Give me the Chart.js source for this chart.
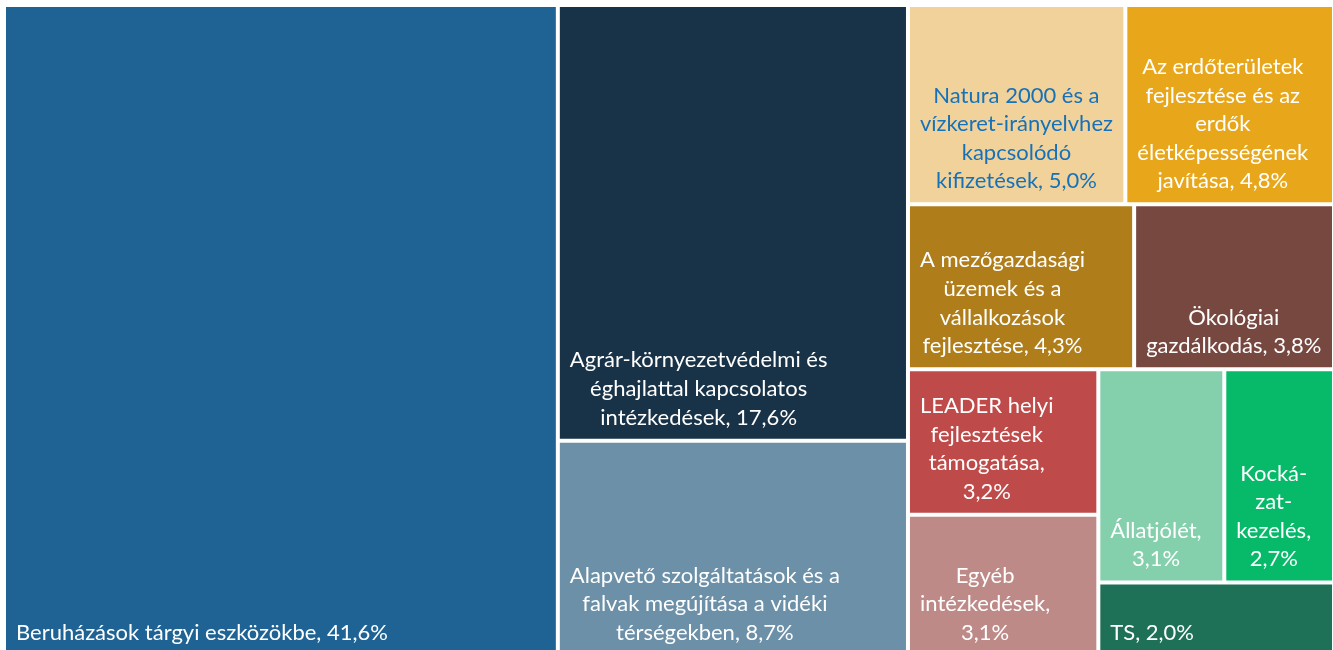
<!DOCTYPE html>
<html>
<head>
<meta charset="utf-8">
<script src="https://cdn.jsdelivr.net/npm/chart.js@4.4.1/dist/chart.umd.min.js"></script>
<style>
  html, body { margin: 0; padding: 0; background: #ffffff; overflow: hidden; }
  #wrap { position: absolute; left: 0; top: 0; }
</style>
</head>
<body>
<div id="wrap"><canvas id="c" width="1338" height="661"></canvas></div>
<script>
// ---- data ----
const categories = [
  "Beruházások tárgyi eszközökbe",
  "Agrár-környezetvédelmi és\néghajlattal kapcsolatos\nintézkedések",
  "Alapvető szolgáltatások és a\nfalvak megújítása a vidéki\ntérségekben",
  "Natura 2000 és a\nvízkeret-irányelvhez\nkapcsolódó\nkifizetések",
  "Az erdőterületek\nfejlesztése és az\nerdők\néletképességének\njavítása",
  "A mezőgazdasági\nüzemek és a\nvállalkozások\nfejlesztése",
  "Ökológiai\ngazdálkodás",
  "LEADER helyi\nfejlesztések\ntámogatása",
  "Egyéb\nintézkedések",
  "Állatjólét",
  "Kocká-\nzat-\nkezelés",
  "TS"
];
const values = [41.6, 17.6, 8.7, 5.0, 4.8, 4.3, 3.8, 3.2, 3.1, 3.1, 2.7, 2.0];
const valueOnNewLine = [false, false, false, false, false, false, false, true, true, true, true, false];
const fillColors = [
  "rgb(30,99,148)", "rgb(24,50,71)", "rgb(108,144,168)", "rgb(242,210,155)",
  "rgb(232,167,26)", "rgb(175,126,26)", "rgb(119,72,64)", "rgb(190,75,74)",
  "rgb(189,138,136)", "rgb(133,208,172)", "rgb(6,186,106)", "rgb(30,113,87)"
];
const textColors = [
  "#ffffff", "#ffffff", "#ffffff", "rgb(22,114,184)", "#ffffff", "#ffffff",
  "#ffffff", "#ffffff", "#ffffff", "#ffffff", "#ffffff", "#ffffff"
];

// ---- squarified layout in a k x 1 rectangle ----
function worst(row, side) {
  let s = 0, mx = -Infinity, mn = Infinity;
  for (const a of row) { s += a; if (a > mx) mx = a; if (a < mn) mn = a; }
  return Math.max(side * side * mx / (s * s), (s * s) / (side * side * mn));
}
function squarify(vals, k) {
  const total = vals.reduce((a, b) => a + b, 0);
  const areas = vals.map(v => v * k / total);
  let x = 0, y = 0, w = k, h = 1;
  const rects = [];
  let i = 0;
  while (i < areas.length) {
    const side = Math.min(w, h);
    const row = [areas[i]];
    let j = i + 1;
    while (j < areas.length && worst(row.concat([areas[j]]), side) <= worst(row, side)) {
      row.push(areas[j]); j++;
    }
    const s = row.reduce((a, b) => a + b, 0);
    if (w >= h) {
      const cw = s / h; let cy = y;
      for (const a of row) { const rh = a / cw; rects.push({x: x, y: cy, w: cw, h: rh}); cy += rh; }
      x += cw; w -= cw;
    } else {
      const rh = s / w; let cx = x;
      for (const a of row) { const rw = a / rh; rects.push({x: cx, y: y, w: rw, h: rh}); cx += rw; }
      y += rh; h -= rh;
    }
    i = j;
  }
  return rects;
}

// ---- treemap controller using library scales and bar elements ----
class TreemapController extends Chart.DatasetController {
  update(mode) {
    const meta = this._cachedMeta;
    this.updateElements(meta.data, 0, meta.data.length, mode);
  }
  updateElements(elements, start, count, mode) {
    const meta = this._cachedMeta;
    const xs = meta.xScale, ys = meta.yScale;
    const pw = Math.abs(xs.getPixelForValue(1) - xs.getPixelForValue(0));
    const ph = Math.abs(ys.getPixelForValue(1) - ys.getPixelForValue(0));
    const k = pw / ph;
    const rects = squarify(this.getDataset().data, k);
    for (let i = start; i < start + count; i++) {
      const r = rects[i];
      const left = xs.getPixelForValue(r.x / k);
      const right = xs.getPixelForValue((r.x + r.w) / k);
      const top = ys.getPixelForValue(r.y);
      const bottom = ys.getPixelForValue(r.y + r.h);
      const props = {
        x: (left + right) / 2,
        width: right - left,
        y: top,
        base: bottom,
        height: bottom - top,
        horizontal: false,
        inflateAmount: 0,
        enableBorderRadius: false,
        borderSkipped: {top: false, bottom: false, left: false, right: false},
        options: this.resolveDataElementOptions(i, mode)
      };
      this.updateElement(elements[i], i, props, 'none');
    }
  }
}
TreemapController.id = 'treemap';
TreemapController.defaults = { dataElementType: 'bar', datasetElementType: false };
TreemapController.overrides = {};
Chart.register(TreemapController);

const FONT = '22px Lato';
const LINE_H = 28.6;

const labelPlugin = {
  id: 'treemapLabels',
  afterDatasetsDraw(chart) {
    const meta = chart.getDatasetMeta(0);
    const ctx = chart.ctx;
    ctx.save();
    ctx.font = FONT;
    ctx.textBaseline = 'alphabetic';
    ctx.textAlign = 'center';
    meta.data.forEach((el, i) => {
      const left = el.x - el.width / 2;
      const bottom = el.base;
      const valTxt = values[i].toFixed(1).replace('.', ',') + '%';
      const text = categories[i] + (valueOnNewLine[i] ? ',\n' : ', ') + valTxt;
      const lines = text.split('\n');
      let bw = 0;
      lines.forEach(l => { bw = Math.max(bw, ctx.measureText(l).width); });
      const cx = left + 12 + bw / 2;
      const lastBase = bottom - 16;
      ctx.fillStyle = textColors[i];
      lines.forEach((l, j) => {
        ctx.fillText(l, cx, lastBase - (lines.length - 1 - j) * LINE_H);
      });
    });
    ctx.restore();
  }
};

new Chart(document.getElementById('c'), {
  type: 'treemap',
  data: {
    labels: categories,
    datasets: [{
      data: values,
      backgroundColor: fillColors,
      borderColor: '#ffffff',
      borderWidth: 2,
      borderSkipped: false
    }]
  },
  options: {
    responsive: false,
    animation: false,
    layout: { padding: { left: 4, top: 5, right: 4, bottom: 5 } },
    scales: {
      x: { type: 'linear', min: 0, max: 1, display: false },
      y: { type: 'linear', min: 0, max: 1, reverse: true, display: false }
    },
    plugins: { legend: { display: false }, tooltip: { enabled: false } },
    events: []
  },
  plugins: [labelPlugin]
});
</script>
</body>
</html>
